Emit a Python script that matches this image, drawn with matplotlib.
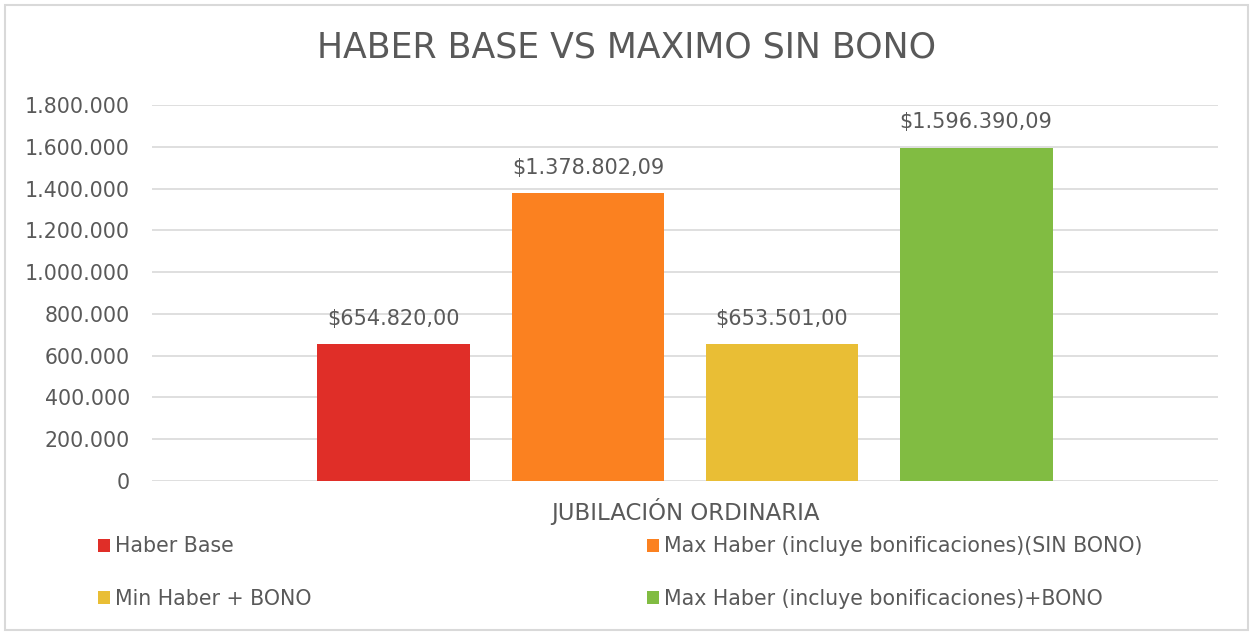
import matplotlib
matplotlib.use("Agg")
import matplotlib.pyplot as plt
from matplotlib.patches import Rectangle
from matplotlib.ticker import FuncFormatter, MultipleLocator

title = "HABER BASE VS MAXIMO SIN BONO"
category = "JUBILACIÓN ORDINARIA"
series = ["Haber Base",
          "Max Haber (incluye bonificaciones)(SIN BONO)",
          "Min Haber + BONO",
          "Max Haber (incluye bonificaciones)+BONO"]
values = [654820.00, 1378802.09, 653501.00, 1596390.09]
colors = ["#E02E28", "#FB8120", "#E9BE35", "#81BC42"]

TXT = "#595959"
plt.rcParams['font.family'] = ['DejaVu Sans']

W, H = 1254, 632
fig = plt.figure(figsize=(W/100, H/100), dpi=100)
fig.patch.set_facecolor("white")
fig.patches.append(Rectangle((5/W, 2/H), (1248-5)/W, (627-2)/H, transform=fig.transFigure,
                             fill=False, edgecolor="#D9D9D9", linewidth=1.5))

ax = fig.add_axes([152/W, (H-481)/H, (1218-152)/W, (481-105)/H])
step = 0.182
bw = 0.1435
handles = []
for i, (s, v, c) in enumerate(zip(series, values, colors)):
    x = 0.5 + (i - 1.5) * step
    b = ax.bar(x, v, width=bw, color=c, label=s, zorder=3)
    handles.append(b)
    txt = "$" + f"{v:,.2f}".replace(",", "X").replace(".", ",").replace("X", ".")
    ax.annotate(txt, (x, v), xytext=(0, 11), textcoords="offset points",
                ha="center", va="bottom", fontsize=15, color=TXT)

ax.set_xlim(0, 1)
ax.set_ylim(0, 1800000)
ax.yaxis.set_major_locator(MultipleLocator(200000))
ax.yaxis.set_major_formatter(FuncFormatter(lambda v, p: f"{int(v):,}".replace(",", ".")))
ax.grid(axis="y", color="#D9D9D9", linewidth=1.2, zorder=0)
for sp in ax.spines.values():
    sp.set_visible(False)
ax.set_xticks([])
ax.tick_params(axis="y", length=0, labelsize=14.8, labelcolor=TXT, pad=16)
ax.set_xlabel(category, fontsize=16.5, color=TXT, labelpad=12)

fig.text(0.5, (H-48)/H, title, ha="center", va="center", fontsize=25, color=TXT)

order = [0, 2, 1, 3]
leg = fig.legend(handles=[handles[i] for i in order], labels=[series[i] for i in order],
                 ncol=2, loc="upper left",
                 bbox_to_anchor=(79/W, (H-518)/H), frameon=False, fontsize=14.8,
                 handlelength=0.6, handleheight=0.6, handletextpad=0.25,
                 labelspacing=1.58, columnspacing=16.3, labelcolor=TXT)
fig.savefig("out.png", dpi=100, facecolor="white")
